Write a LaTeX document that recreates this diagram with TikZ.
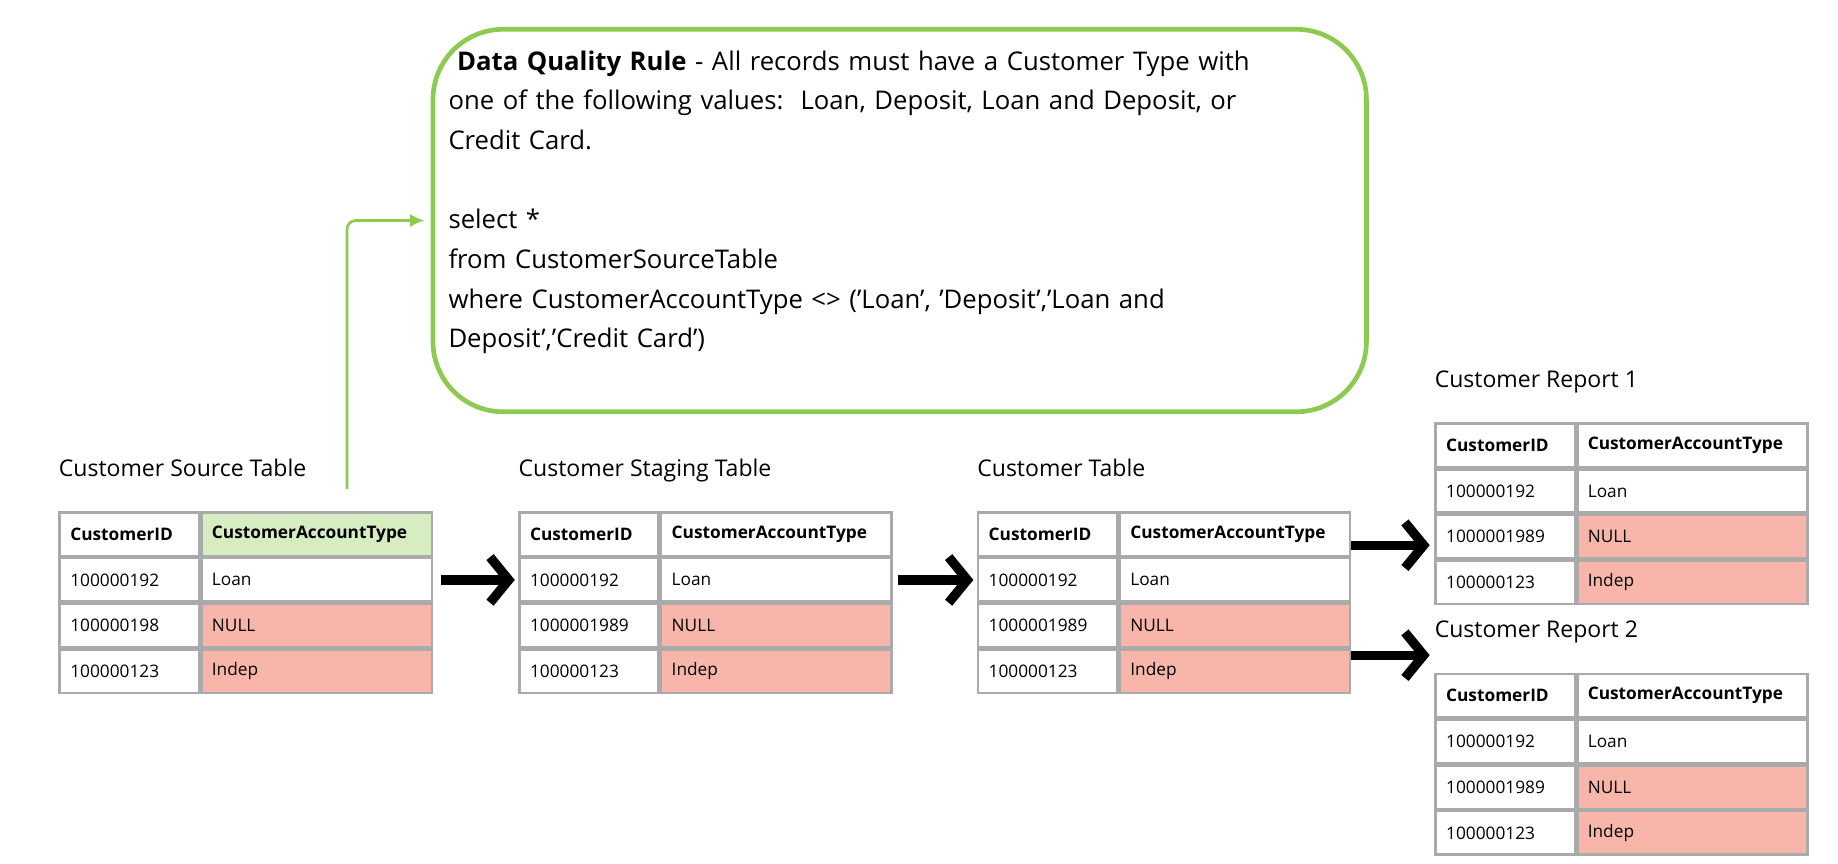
\documentclass[tikz,border=0pt]{standalone}
\usepackage{fontspec}
\setmainfont{Open Sans}
\usetikzlibrary{arrows.meta,positioning}

\definecolor{rulegreen}{HTML}{8CCB50}
\definecolor{headgreen}{HTML}{D5EDC0}
\definecolor{badred}{HTML}{F8B6AA}
\definecolor{gridgray}{HTML}{AAAAAA}

% one customer table: name, x, y (top), second id, header fill, title
\newcommand\custtable[6]{%
    \node[cellA, anchor=north west] (#1-h1) at (#2,#3) {\bfseries CustomerID};%
    \node[cellB, anchor=north west, fill=#5] (#1-h2) at (#1-h1.north east) {\bfseries CustomerAccountType};%
    \node[cellA, anchor=north west] (#1-a1) at (#1-h1.south west) {100000192};%
    \node[cellB, anchor=north west] (#1-a2) at (#1-a1.north east) {Loan};%
    \node[cellA, anchor=north west] (#1-b1) at (#1-a1.south west) {#4};%
    \node[cellB, anchor=north west, fill=badred] (#1-b2) at (#1-b1.north east) {NULL};%
    \node[cellA, anchor=north west] (#1-c1) at (#1-b1.south west) {100000123};%
    \node[cellB, anchor=north west, fill=badred] (#1-c2) at (#1-c1.north east) {Indep};%
    \node[title, anchor=base west] (#1-t) at ([yshift=0.6cm]#1-h1.north west) {#6};%
}

\begin{document}
\begin{tikzpicture}[
        x=0.02cm, y=-0.02cm,
        cellA/.style={draw=gridgray, line width=1.2pt, minimum height=0.74cm, inner xsep=0.18cm,
            text width=2.02cm, align=left, font=\fontsize{8.4}{10}\selectfont},
        cellB/.style={cellA, text width=3.58cm},
        title/.style={inner sep=0pt, font=\fontsize{11.2}{13}\selectfont},
        bigarrow/.style={line width=0.16cm, -{Straight Barb[length=0.32cm, width=0.78cm]}},
        rulearrow/.style={draw=rulegreen, line width=1.3pt, rounded corners=0.15cm, -{Latex[length=0.25cm, width=0.22cm]}},
    ]
    % rule box
    \node[draw=rulegreen, line width=0.08cm, rounded corners=1.2cm,
        minimum width=15.96cm, minimum height=6.54cm] (rule) at (769,188.5) {};
    \node[inner sep=0pt, anchor=north west, text width=16cm, align=left,
        font=\fontsize{12.5}{19.3}\selectfont] (ruletext) at (383,43) {%
        \ \textbf{Data Quality Rule} - All records must have a Customer Type with\\
        one of the following values:\ \ Loan, Deposit, Loan and Deposit, or\\
        Credit Card.\\
        \mbox{}\\
        select *\\
        from CustomerSourceTable\\
        where CustomerAccountType <> ('Loan', 'Deposit','Loan and\\
        Deposit','Credit Card')};

    % tables
    \custtable{src}{50}{437}{100000198}{headgreen}{Customer Source Table}
    \custtable{stg}{443}{437}{1000001989}{white}{Customer Staging Table}
    \custtable{cus}{835}{437}{1000001989}{white}{Customer Table}
    \custtable{rpa}{1226}{361}{1000001989}{white}{Customer Report 1}
    \custtable{rpb}{1226}{575}{1000001989}{white}{Customer Report 2}

    % flow
    \draw[rulearrow] ([shift={(26,-19)}]src-h2.north) |- ([shift={(-5,0)}]rule.west);
    \draw[bigarrow] ([xshift=0.14cm]src-a2.east) -- ([xshift=-0.06cm]stg-a1.west);
    \draw[bigarrow] ([xshift=0.08cm]stg-a2.east) -- ([xshift=-0.06cm]cus-a1.west);
    \coordinate (outa) at (1155,466);
    \coordinate (outb) at (1155,560);
    \draw[bigarrow] (outa) -- ([xshift=-0.08cm]rpa-a1.west |- outa);
    \draw[bigarrow] (outb) -- ([xshift=-0.08cm]rpb-t.west |- outb);

    \pgfresetboundingbox
    \useasboundingbox (0,0) rectangle (1571,738);
\end{tikzpicture}
\end{document}
